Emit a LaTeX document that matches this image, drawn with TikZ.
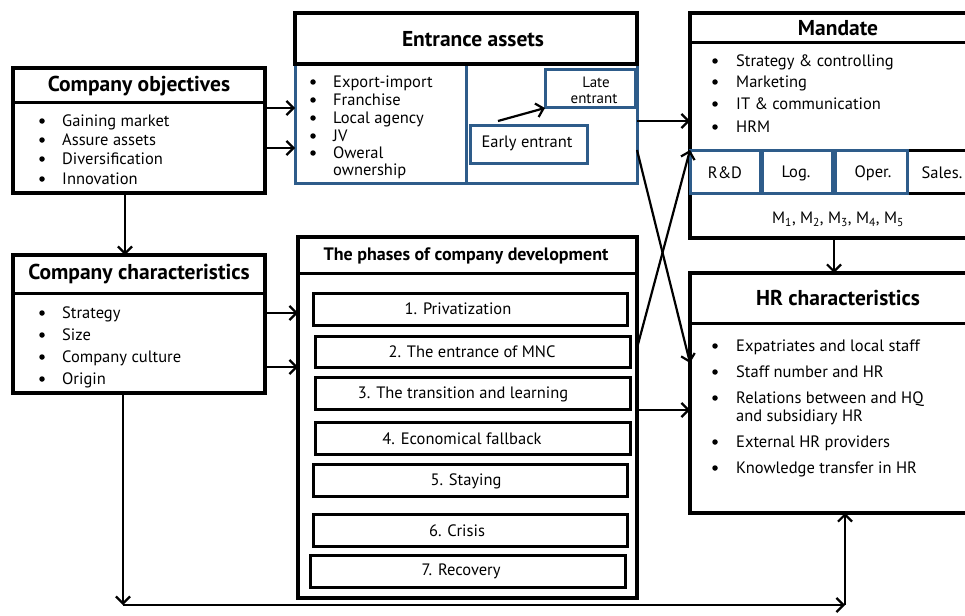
\documentclass[tikz,border=0pt]{standalone}
\usepackage{fontspec}
\setmainfont{PT Sans}
\usetikzlibrary{arrows.meta}
\definecolor{bl}{RGB}{46,92,138}
\newcommand\bx[6]{\node[#6, anchor=north west, inner sep=0pt, outer sep=0pt, minimum width=#4pt-#2pt, minimum height=#5pt-#3pt] (#1) at (#2,#3) {};}
\newcommand\bul[5]{\node[dotm] (#1d) at (#2,#4) {}; \node[tx] (#1) at (#3,{#4+5.5}) {#5};}
\begin{document}
\begin{tikzpicture}[x=1pt,y=-1pt,
 kbox/.style={draw=black,line width=3.5pt},
 bbox/.style={draw=bl,line width=3pt},
 pbox/.style={draw=black,line width=3pt},
 con/.style={line width=2.2pt,-{Straight Barb[length=7pt,width=14pt,line width=2.2pt]}},
 tx/.style={font=\fontsize{16.5}{18}\selectfont,inner sep=0pt,anchor=base west},
 ctx/.style={font=\fontsize{16.5}{18}\selectfont,inner sep=0pt},
 ttl/.style={font=\bfseries\fontsize{21.5}{23}\selectfont,inner sep=0pt},
 dotm/.style={circle,fill=black,inner sep=0pt,minimum size=5.5pt}
]
\useasboundingbox (0,0) rectangle (965,615);
\clip (0,0) rectangle (965,615);

% Company objectives
\bx{obj}{13}{68}{265}{193}{kbox}
\draw[line width=3pt] (obj.west |- 0,103) -- (obj.east |- 0,103);
\node[ttl] (objt) at (139,86) {Company objectives};
\bul{o1}{42}{62}{121}{Gaining market}
\bul{o2}{42}{62}{140}{Assure assets}
\bul{o3}{42}{62}{159}{Diversification}
\bul{o4}{42}{62}{179}{Innovation}

% Company characteristics
\bx{chr}{13}{255}{265}{393}{kbox}
\draw[line width=3pt] (chr.west |- 0,293) -- (chr.east |- 0,293);
\node[ttl] (chrt) at (139,274) {Company characteristics};
\bul{c1}{42}{62}{313}{Strategy}
\bul{c2}{42}{62}{335}{Size}
\bul{c3}{42}{62}{357}{Company culture}
\bul{c4}{42}{62}{379}{Origin}

% Entrance assets
\bx{entb}{295}{64}{637}{183}{bbox}
\draw[bl,line width=3pt] (466,64) -- (466,183);
\bx{entt}{295}{13}{637}{64}{kbox}
\node[ttl] (entl) at (473,39) {Entrance assets};
\bul{e1}{313}{333}{82}{Export-import}
\bul{e2}{313}{333}{100}{Franchise}
\bul{e3}{313}{333}{118}{Local agency}
\bul{e4}{313}{333}{136}{JV}
\bul{e5}{313}{333}{153}{Oweral}
\node[tx] (e6) at (333,175) {ownership};
\bx{late}{545}{70}{635}{108}{bbox}
\node[tx,anchor=base,font=\fontsize{15}{15}\selectfont] (latet1) at (596,88) {Late};
\node[tx,anchor=base,font=\fontsize{15}{15}\selectfont] (latet2) at (594,103) {entrant};
\bx{early}{470}{125}{587}{163}{bbox}
\node[ctx] (earlyt) at (527,143) {Early entrant};
\draw[con] (498,121) -- (late.south west);

% Mandate
\bx{man}{690}{13}{975}{238}{kbox}
\draw[line width=3pt] (man.west |- 0,43) -- (975,43);
\node[ttl] (mant) at (838,28) {Mandate};
\bul{m1}{715}{736}{61}{Strategy \& controlling}
\bul{m2}{715}{736}{82}{Marketing}
\bul{m3}{715}{736}{104}{IT \& communication}
\bul{m4}{715}{736}{127}{HRM}
\draw[line width=3pt] (907,150) -- (975,150) (907,193) -- (975,193);
\bx{rd}{690}{150}{760}{193}{bbox}
\bx{lg}{762}{150}{832}{193}{bbox}
\bx{op}{835}{150}{907}{193}{bbox}
\node[ctx] (rdt) at (725,173) {R\&D};
\node[ctx] (lgt) at (796,173) {Log.};
\node[ctx] (opt) at (873,173) {Oper.};
\node[ctx] (slt) at (942,173) {Sales.};
\node[ctx] (mm) at (838,219) {M\textsubscript{1}, M\textsubscript{2}, M\textsubscript{3}, M\textsubscript{4}, M\textsubscript{5}};

% HR characteristics
\bx{hr}{690}{273}{975}{513}{kbox}
\draw[line width=3pt] (hr.west |- 0,323) -- (975,323);
\node[ttl] (hrt) at (838,298) {HR characteristics};
\bul{h1}{715}{736}{346}{Expatriates and local staff}
\bul{h2}{715}{736}{372}{Staff number and HR}
\bul{h3}{715}{736}{398}{Relations between and HQ}
\node[tx] (h3b) at (736,421.5) {and subsidiary HR};
\bul{h4}{715}{736}{442}{External HR providers}
\bul{h5}{715}{736}{468}{Knowledge transfer in HR}

% Phases
\bx{ph}{298}{237}{637}{598}{kbox}
\draw[line width=3pt] (ph.west |- 0,273) -- (ph.east |- 0,273);
\node[ttl,font=\bfseries\fontsize{18}{20}\selectfont] (pht) at (466,256) {The phases of company development};
\bx{p1}{313}{293}{627}{325}{pbox}
\bx{p2}{315}{336}{630}{367}{pbox}
\bx{p3}{315}{377}{630}{409}{pbox}
\bx{p4}{315}{422}{630}{454}{pbox}
\bx{p5}{313}{464}{627}{496}{pbox}
\bx{p6}{313}{514}{627}{546}{pbox}
\bx{p7}{310}{555}{625}{587}{pbox}
\node[ctx] (p1t) at (458,309) {1. Privatization};
\node[ctx] (p2t) at (472,352) {2. The entrance of MNC};
\node[ctx] (p3t) at (463,394) {3. The transition and learning};
\node[ctx] (p4t) at (462,439) {4. Economical fallback};
\node[ctx] (p5t) at (466,481) {5. Staying};
\node[ctx] (p6t) at (457,531) {6. Crisis};
\node[ctx] (p7t) at (461,571) {7. Recovery};

% connectors
\draw[con] (obj.east |- 0,108) -- (entb.west |- 0,108);
\draw[con] (obj.east |- 0,148) -- (entb.west |- 0,148);
\draw[con] (obj.south -| 125,0) -- (chr.north -| 125,0);
\draw[con] (chr.east |- 0,313) -- (ph.west |- 0,313);
\draw[con] (chr.east |- 0,367) -- (ph.west |- 0,367);
\draw[con] (entb.east |- 0,121) -- (man.west |- 0,121);
\draw[con] (entb.east |- 0,150) -- (hr.west |- 0,363);
\draw[con] (ph.east |- 0,348) -- (rd.north west);
\draw[con] (ph.east |- 0,410) -- (hr.west |- 0,410);
\draw[con] (man.south -| 834,0) -- (hr.north -| 834,0);
\coordinate (cl) at (123,605);
\coordinate (cr) at (845,605);
\draw[con] (chr.south -| cl) -- (cl);
\draw[con] (cl) -- (cr);
\draw[con] (cr) -- (hr.south -| cr);
\end{tikzpicture}
\end{document}
